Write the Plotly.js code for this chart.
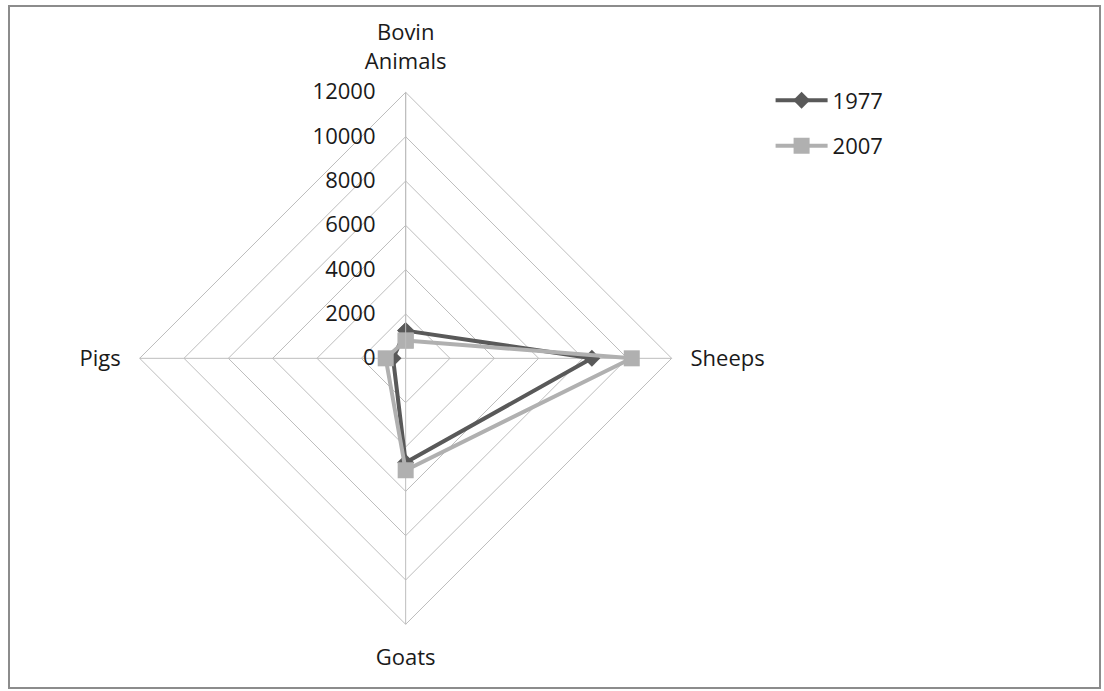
<!DOCTYPE html>
<html>
<head>
<meta charset="utf-8">
<script src="https://cdn.plot.ly/plotly-3.0.1.min.js"></script>
<style>
  html, body { margin: 0; padding: 0; background: #fff; }
  #chart { width: 1104px; height: 691px; }
</style>
</head>
<body>
<div id="chart"></div>
<script>
// Livestock head counts by species, two survey years
const categories = ['Bovin<br>Animals', 'Sheeps', 'Goats', 'Pigs'];
const values1977 = [1250, 8400, 4700, 570];
const values2007 = [800, 10200, 5050, 900];
const radialTicks = [0, 2000, 4000, 6000, 8000, 10000, 12000];

// close the polygon by repeating the first point
const closed = arr => arr.concat([arr[0]]);

const FONT = '"Open Sans", "Noto Sans", sans-serif';
const GRID = '#bdbdbd';

const traces = [
  {
    type: 'scatterpolar',
    name: '1977',
    theta: closed(categories),
    r: closed(values1977),
    mode: 'lines+markers',
    line: { color: '#595959', width: 4 },
    marker: { symbol: 'diamond', size: 13, color: '#595959' },
    legendgroup: 'a'
  },
  {
    type: 'scatterpolar',
    name: '2007',
    theta: closed(categories),
    r: closed(values2007),
    mode: 'lines+markers',
    line: { color: '#b0b0b0', width: 4 },
    marker: { symbol: 'square', size: 16, color: '#b0b0b0' },
    legendgroup: 'b'
  }
];

const layout = {
  width: 1104,
  height: 691,
  margin: { l: 0, r: 0, t: 0, b: 0 },
  paper_bgcolor: '#fff',
  font: { family: FONT, size: 22, color: '#1a1a1a' },
  showlegend: true,
  legend: {
    x: 0.698, y: 0.885, xanchor: 'left', yanchor: 'top',
    font: { family: FONT, size: 22, color: '#1a1a1a' },
    itemwidth: 52,
    tracegroupgap: 14,
    bgcolor: 'rgba(0,0,0,0)'
  },
  polar: {
    domain: { x: [0.1265, 0.6084], y: [0.0965, 0.8664] },
    gridshape: 'linear',
    bgcolor: '#fff',
    angularaxis: {
      type: 'category',
      categoryarray: categories,
      rotation: 90,
      direction: 'clockwise',
      showline: true,
      linecolor: GRID,
      linewidth: 1,
      gridcolor: GRID,
      gridwidth: 1,
      ticks: 'outside',
      ticklen: 14,
      tickcolor: 'rgba(0,0,0,0)',
      tickfont: { family: FONT, size: 22, color: '#1a1a1a' }
    },
    radialaxis: {
      range: [0, 12000],
      tickvals: radialTicks,
      ticktext: radialTicks.map(String),
      angle: 90,
      side: 'counterclockwise',
      showline: true,
      linecolor: GRID,
      linewidth: 1,
      gridcolor: GRID,
      gridwidth: 1,
      ticks: 'outside',
      ticklen: 22,
      tickcolor: 'rgba(0,0,0,0)',
      tickangle: 90,
      tickfont: { family: FONT, size: 22, color: '#1a1a1a' }
    }
  },
  shapes: [
    {
      type: 'rect', xref: 'paper', yref: 'paper',
      x0: 9 / 1104, x1: 1100 / 1104,
      y0: 3 / 691, y1: 685 / 691,
      line: { color: '#8c8c8c', width: 2 },
      fillcolor: 'rgba(0,0,0,0)'
    }
  ]
};

Plotly.newPlot('chart', traces, layout, { displayModeBar: false, staticPlot: true });
</script>
</body>
</html>
